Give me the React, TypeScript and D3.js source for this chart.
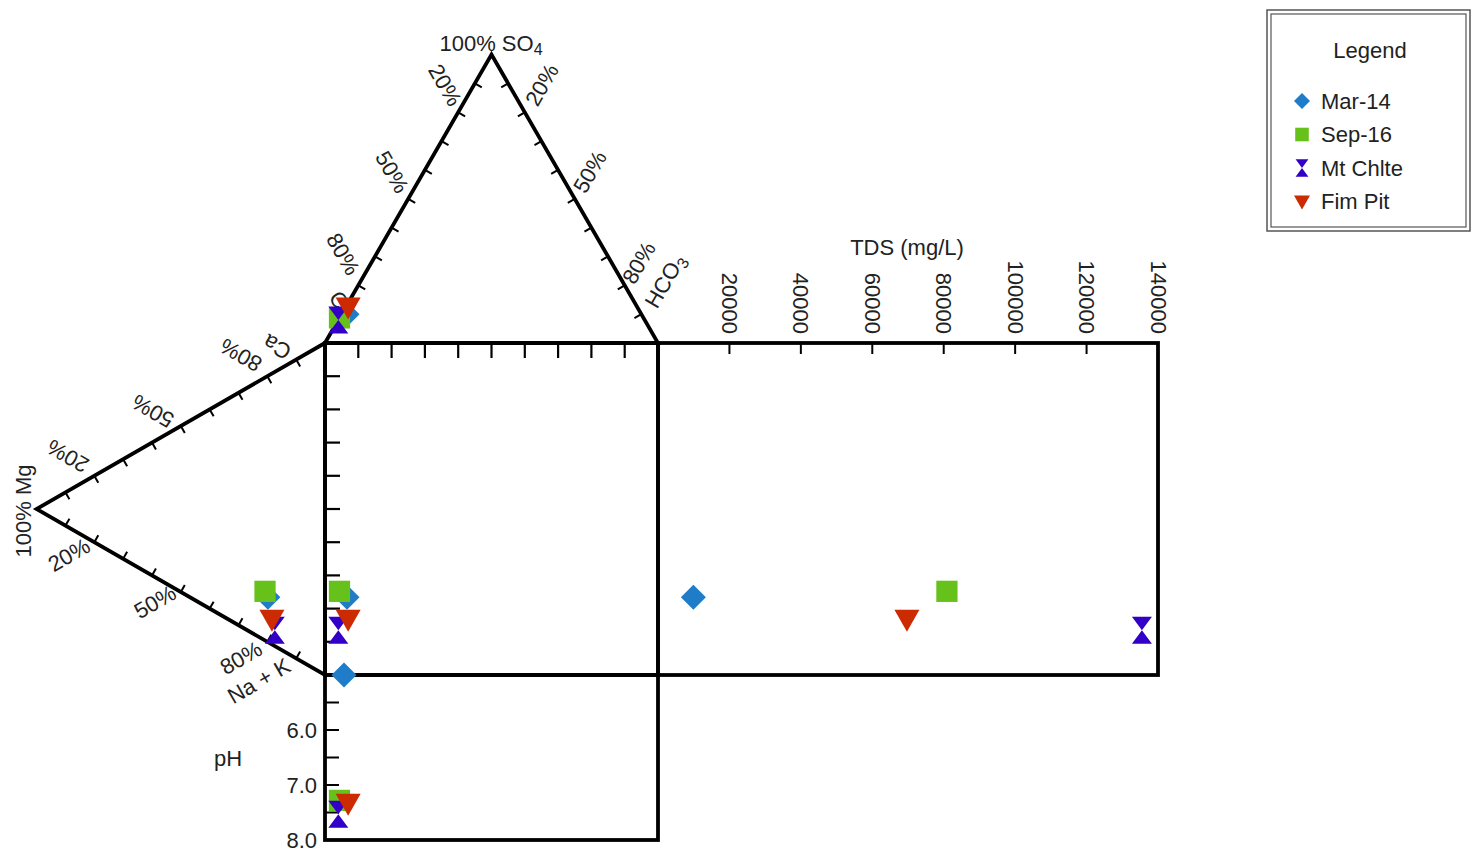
import React from "react";
import * as d3 from "d3";

// ---- Data ----
const seriesNames = ["Mar-14", "Sep-16", "Mt Chlte", "Fim Pit"];
const seriesColors = ["#1e7cc8", "#66c21a", "#3300c8", "#cc2a00"];
const seriesShapes = ["diamond", "square", "hourglass", "triangle"];

// samples (series index), cation %, anion %, TDS, pH
const sampleSeries = [0, 1, 2, 3, 0];
const caPct = [13.5, 14.8, 4.8, 7.6, 0];
const mgPct = [19.8, 20.8, 17.4, 18.4, 0];
const naKPct = [66.7, 64.4, 77.8, 74.0, 100];
const hco3Pct = [1.6, 0, 0, 0.7, 0.7];
const so4Pct = [10.0, 8.7, 8.0, 12.5, 10.0];
const clPct = [88.4, 91.3, 92.0, 86.8, 89.3];
const tdsVals: (number | null)[] = [9900, 80900, 135500, 69700, null];
const phVals: (number | null)[] = [null, 7.28, 7.53, 7.33, null];
const inTriangles = [true, true, true, true, false];

const tdsTicks = [20000, 40000, 60000, 80000, 100000, 120000, 140000];
const phTicks = [6.0, 7.0, 8.0];
const phMinor = [5.5, 6.0, 6.5, 7.0, 7.5];
const pctLabels = [20, 50, 80];

// ---- Geometry ----
const X0 = 325, X1 = 658, Y0 = 343, Y1 = 675;
const SIDE = X1 - X0;
const TH = SIDE * Math.sqrt(3) / 2;

const sqX = d3.scaleLinear().domain([0, 100]).range([X0, X1]); // HCO3 + SO4/2
const sqY = d3.scaleLinear().domain([0, 100]).range([Y0, Y1]); // NaK + Mg/2
const triUp = d3.scaleLinear().domain([0, 100]).range([Y0, Y0 - TH]); // SO4
const triLeft = d3.scaleLinear().domain([0, 100]).range([X0, X0 - TH]); // Mg
const tdsX = d3.scaleLinear().domain([0, 140000]).range([X1, 1158]);
const phY = d3.scaleLinear().domain([5, 8]).range([Y1, 840]);

const FONT = "'Liberation Sans', Arial, sans-serif";
const FS = 22;

function markerPath(shape: string, s: number) {
  switch (shape) {
    case "diamond":
      return `M0,${-s}L${s},0L0,${s}L${-s},0Z`;
    case "square": {
      const h = s * 0.85;
      return `M${-h},${-h}L${h},${-h}L${h},${h}L${-h},${h}Z`;
    }
    case "triangle":
      return `M${-s},${-s * 0.75}L${s},${-s * 0.75}L0,${s}Z`;
    case "hourglass": {
      const w = s * 0.8;
      const h = s * 1.08;
      return `M${-w},${-h}L${w},${-h}L0,0L${w},${h}L${-w},${h}L0,0Z`;
    }
  }
  return "";
}

function Marker({ x, y, i, s = 12.5 }: { x: number; y: number; i: number; s?: number }) {
  return (
    <path
      d={markerPath(seriesShapes[i], s)}
      transform={`translate(${x},${y})`}
      fill={seriesColors[i]}
    />
  );
}

function Label({ x, y, rot = 0, children, size = FS, anchor = "middle" }: any) {
  return (
    <text
      transform={`translate(${x},${y}) rotate(${rot})`}
      textAnchor={anchor}
      dominantBaseline="central"
      fontSize={size}
      fontFamily={FONT}
      fill="#222"
    >
      {children}
    </text>
  );
}

function edgeTicks(ax: number, ay: number, bx: number, by: number, nx: number, ny: number, len: number) {
  const out: any[] = [];
  for (let k = 1; k < 10; k++) {
    const t = k / 10;
    const x = ax + (bx - ax) * t;
    const y = ay + (by - ay) * t;
    out.push(
      <line key={`${ax}-${ay}-${k}`} x1={x} y1={y} x2={x + nx * len} y2={y + ny * len} stroke="#000" strokeWidth={2} />
    );
  }
  return out;
}

export default function App() {
  const apexTop = [(X0 + X1) / 2, Y0 - TH];
  const apexLeft = [X0 - TH, (Y0 + Y1) / 2];
  const c30 = Math.cos(Math.PI / 6), s30 = 0.5;

  const samples = sampleSeries.map((si, k) => {
    const sx = sqX(hco3Pct[k] + so4Pct[k] / 2);
    const sy = sqY(naKPct[k] + mgPct[k] / 2);
    return {
      si,
      sx,
      sy,
      topY: triUp(so4Pct[k]),
      leftX: triLeft(mgPct[k]),
      tds: tdsVals[k],
      ph: phVals[k],
      tri: inTriangles[k],
    };
  });
  const ordered = [...samples].sort((a, b) => a.si - b.si);

  return (
    <svg
      width={1472}
      height={858}
      style={{ position: "absolute", left: 0, top: 0, background: "#fff" }}
    >
      <rect x={0} y={0} width={1472} height={858} fill="#fff" />

      {/* square ticks */}
      {d3.range(1, 10).map((k) => (
        <line key={`tt${k}`} x1={X0 + (SIDE * k) / 10} y1={Y0} x2={X0 + (SIDE * k) / 10} y2={Y0 + 15} stroke="#000" strokeWidth={2.2} />
      ))}
      {d3.range(1, 10).map((k) => (
        <line key={`lt${k}`} x1={X0} y1={Y0 + ((Y1 - Y0) * k) / 10} x2={X0 + 15} y2={Y0 + ((Y1 - Y0) * k) / 10} stroke="#000" strokeWidth={2.2} />
      ))}

      {/* triangle edge ticks */}
      {edgeTicks(apexTop[0], apexTop[1], X0, Y0, c30, s30, 8)}
      {edgeTicks(apexTop[0], apexTop[1], X1, Y0, -c30, s30, 8)}
      {edgeTicks(apexLeft[0], apexLeft[1], X0, Y0, s30, c30, 8)}
      {edgeTicks(apexLeft[0], apexLeft[1], X0, Y1, s30, -c30, 8)}

      {/* TDS ticks */}
      {tdsTicks.slice(0, -1).map((v) => (
        <line key={`td${v}`} x1={tdsX(v)} y1={Y0} x2={tdsX(v)} y2={Y0 + 11} stroke="#000" strokeWidth={2} />
      ))}
      {/* pH ticks */}
      {phMinor.map((v) => (
        <line key={`ph${v}`} x1={X0} y1={phY(v)} x2={X0 + 14} y2={phY(v)} stroke="#000" strokeWidth={2} />
      ))}

      {/* outlines */}
      <g fill="none" stroke="#000" strokeWidth={3.8} strokeLinejoin="miter">
        <polygon points={`${X0},${Y0} ${apexTop[0]},${apexTop[1]} ${X1},${Y0}`} />
        <polygon points={`${X0},${Y0} ${apexLeft[0]},${apexLeft[1]} ${X0},${Y1}`} />
        <rect x={X0} y={Y0} width={SIDE} height={Y1 - Y0} />
        <rect x={X1} y={Y0} width={tdsX(140000) - X1} height={Y1 - Y0} />
        <rect x={X0} y={Y1} width={SIDE} height={phY(8) - Y1} />
      </g>

      {/* top triangle labels */}
      <text x={491} y={43} textAnchor="middle" dominantBaseline="central" fontSize={FS} fontFamily={FONT} fill="#222">
        100% SO<tspan dy={6} fontSize={16}>4</tspan>
      </text>
      {pctLabels.map((p, i) => {
        const pos = [[445, 85], [392, 172], [343, 254]][i];
        return <Label key={`tl${p}`} x={pos[0]} y={pos[1]} rot={60}>{`${p}%`}</Label>;
      })}
      <Label x={340} y={302} rot={60}>Cl</Label>
      {pctLabels.map((p, i) => {
        const pos = [[542, 85], [590, 172], [639, 263]][i];
        return <Label key={`tr${p}`} x={pos[0]} y={pos[1]} rot={-60}>{`${p}%`}</Label>;
      })}
      <text transform={`translate(665,281) rotate(-60)`} textAnchor="middle" dominantBaseline="central" fontSize={FS} fontFamily={FONT} fill="#222">
        HCO<tspan dy={6} fontSize={16}>3</tspan>
      </text>

      {/* left triangle labels */}
      <Label x={277} y={347} rot={210}>Ca</Label>
      {pctLabels.map((p, i) => {
        const pos = [[241, 355], [153, 411], [68, 456]][2 - i];
        return <Label key={`lu${p}`} x={pos[0]} y={pos[1]} rot={210}>{`${p}%`}</Label>;
      })}
      <Label x={23} y={511} rot={-90}>100% Mg</Label>
      {pctLabels.map((p, i) => {
        const pos = [[69, 555], [155, 602], [241, 658]][i];
        return <Label key={`ll${p}`} x={pos[0]} y={pos[1]} rot={-30}>{`${p}%`}</Label>;
      })}
      <Label x={259} y={681} rot={-30}>Na + K</Label>

      {/* pH labels */}
      <Label x={228} y={758}>pH</Label>
      {phTicks.map((v) => (
        <Label key={`phl${v}`} x={317} y={phY(v)} anchor="end">{v.toFixed(1)}</Label>
      ))}

      {/* TDS labels */}
      <Label x={907} y={247}>TDS (mg/L)</Label>
      {tdsTicks.map((v) => (
        <Label key={`tdl${v}`} x={tdsX(v)} y={334} rot={90} anchor="end">{String(v)}</Label>
      ))}

      {/* markers */}
      {ordered.map((s, k) => (
        <g key={`m${k}`}>
          {s.tri && <Marker x={s.sx} y={s.topY} i={s.si} />}
          {s.tri && <Marker x={s.leftX} y={s.sy} i={s.si} />}
          <Marker x={s.sx} y={s.sy} i={s.si} />
          {s.tds != null && <Marker x={tdsX(s.tds)} y={s.sy} i={s.si} />}
          {s.ph != null && <Marker x={s.sx} y={phY(s.ph)} i={s.si} />}
        </g>
      ))}

      {/* legend */}
      <rect x={1267} y={10} width={203} height={221} fill="#fff" stroke="#555" strokeWidth={1.5} />
      <rect x={1271} y={14} width={195} height={213} fill="none" stroke="#555" strokeWidth={1.2} />
      <Label x={1370} y={50}>Legend</Label>
      {seriesNames.map((n, i) => (
        <g key={`lg${n}`}>
          <Marker x={1302} y={101 + i * 33.5} i={i} s={8} />
          <Label x={1321} y={101 + i * 33.5} anchor="start">{n}</Label>
        </g>
      ))}
    </svg>
  );
}
